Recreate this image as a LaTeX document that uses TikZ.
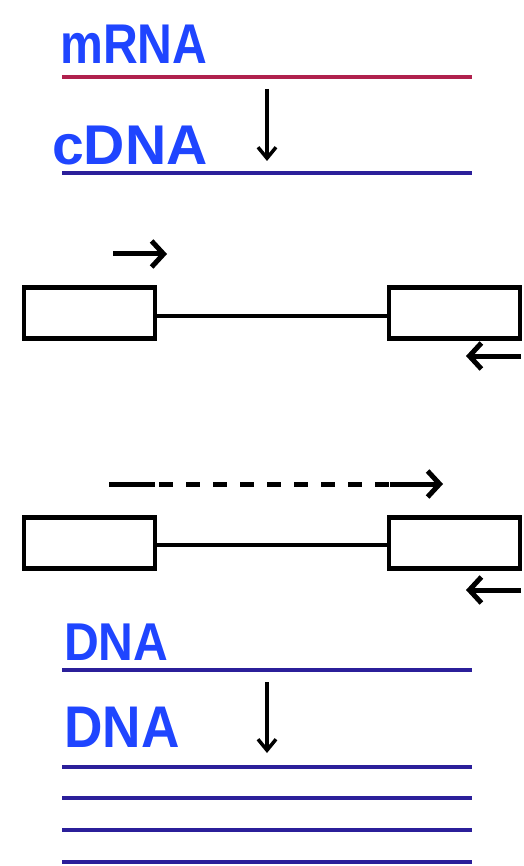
\documentclass[tikz,border=0pt]{standalone}
\usepackage{fontspec}
\setmainfont{Liberation Sans}
\usetikzlibrary{arrows.meta}
\definecolor{mrnacol}{HTML}{B0214D}
\definecolor{dnacol}{HTML}{2B1F9A}
\definecolor{inkblue}{HTML}{1F45FF}
\tikzset{
  strand/.style={line width=3.5pt},
  box/.style={draw, line width=4.5pt, minimum width=131pt, minimum height=51pt, inner sep=0pt},
  link/.style={line width=4pt},
  primer/.style={line width=5pt, -{Straight Barb[length=12pt,width=26pt,line width=5pt]}},
  conv/.style={line width=3.5pt, -{Straight Barb[length=11pt,width=18pt,line width=3.5pt]}},
  lbl/.style={text=inkblue, anchor=base west, inner sep=0pt, font=\bfseries\fontsize{56}{56}\selectfont}
}
\begin{document}
\begin{tikzpicture}[x=1pt,y=-1pt]
\useasboundingbox (0,0) rectangle (523,866);
% top: mRNA -> cDNA
\node[lbl] (tmrna) at (60,64) {\scalebox{0.86}[1]{mRNA}};
\coordinate (m1) at (62,77); \coordinate (m2) at (472,77);
\draw[strand, mrnacol] (m1) -- (m2);
\coordinate (a1s) at (267,89); \coordinate (a1e) at (267,161);
\draw[conv] (a1s) -- (a1e);
\node[lbl] (tcdna) at (52,165) {\scalebox{1.02}[1]{cDNA}};
\coordinate (c1) at (62,173); \coordinate (c2) at (472,173);
\draw[strand, dnacol] (c1) -- (c2);
% gene 1
\node[box] (L1) at (89.5,313) {};
\node[box] (R1) at (454.5,313) {};
\draw[link] ([yshift=-2.5pt]L1.east) -- ([yshift=-2.5pt]R1.west);
\coordinate (p1s) at (113,254); \coordinate (p1e) at (167,254);
\draw[primer] (p1s) -- (p1e);
\coordinate (p2s) at (521,356); \coordinate (p2e) at (466,356);
\draw[primer] (p2s) -- (p2e);
% gene 2
\node[box] (L2) at (89.5,543) {};
\node[box] (R2) at (454.5,543) {};
\draw[link] ([yshift=-2pt]L2.east) -- ([yshift=-2pt]R2.west);
\coordinate (d1) at (109,484); \coordinate (d2) at (155,484);
\coordinate (d3) at (390,484); \coordinate (d4) at (443,484);
\draw[line width=5pt] (d1) -- (d2);
\draw[line width=5pt, dash pattern=on 14pt off 13pt, dash phase=-4pt] (d2) -- (d3);
\draw[primer] (d3) -- (d4);
\coordinate (p3s) at (521,590); \coordinate (p3e) at (466,590);
\draw[primer] (p3s) -- (p3e);
% bottom: DNA -> DNA copies
\node[lbl] (tdna1) at (64,660) {\scalebox{0.86}[0.95]{DNA}};
\coordinate (n1a) at (62,670); \coordinate (n1b) at (472,670);
\draw[strand, dnacol] (n1a) -- (n1b);
\coordinate (a2s) at (267,682); \coordinate (a2e) at (267,753);
\draw[conv] (a2s) -- (a2e);
\node[lbl] (tdna2) at (64,747) {\scalebox{0.95}[1.05]{DNA}};
\foreach \yy/\nm in {767/n2,798/n3,830/n4,862/n5}{
  \coordinate (\nm a) at (62,\yy); \coordinate (\nm b) at (472,\yy);
  \draw[strand, dnacol] (\nm a) -- (\nm b);
}
\end{tikzpicture}
\end{document}
